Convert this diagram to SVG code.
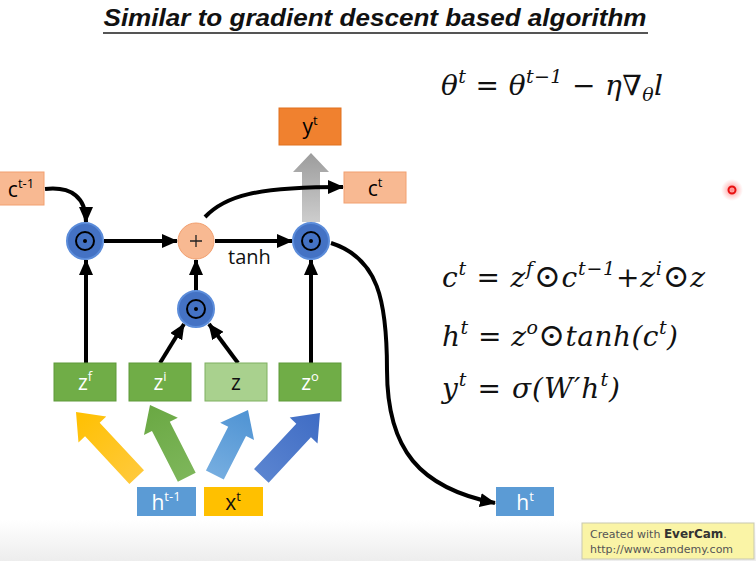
<svg xmlns="http://www.w3.org/2000/svg" width="756" height="561" viewBox="0 0 756 561">
<defs>
<style>
.lbl{font-family:"Open Sans","Liberation Sans",sans-serif;font-size:21px;text-anchor:middle}
.sup{font-size:13px}
.eq{font-family:"DejaVu Serif","Liberation Serif",serif;font-style:italic;font-size:28px;fill:#111}
.eqs{font-size:19px}
.od{font-style:normal;font-size:32px}
.conn{fill:none;stroke:#000;stroke-width:4}
.blue{fill:#4472C4;stroke:#5B8CDA;stroke-width:2}
.odot{fill:none;stroke:#000;stroke-width:2}
.zg{fill:#70AD47;stroke:#5E9A3A;stroke-width:1}
.peach{fill:#F8B992;stroke:#F2A070;stroke-width:1}
</style>
<marker id="ah" viewBox="0 0 16 14" refX="15" refY="7" markerWidth="16" markerHeight="14" markerUnits="userSpaceOnUse" orient="auto">
<path d="M0,0 L16,7 L0,14 z" fill="#000"/>
</marker>
<linearGradient id="gy" x1="0" y1="0" x2="0" y2="1"><stop offset="0" stop-color="#FFC000"/><stop offset="1" stop-color="#FFC93A"/></linearGradient>
<linearGradient id="gg" x1="0" y1="0" x2="0" y2="1"><stop offset="0" stop-color="#6AA843"/><stop offset="1" stop-color="#7DB65A"/></linearGradient>
<linearGradient id="glb" x1="0" y1="0" x2="0" y2="1"><stop offset="0" stop-color="#4F93D3"/><stop offset="1" stop-color="#75ADE0"/></linearGradient>
<linearGradient id="gb" x1="0" y1="0" x2="0" y2="1"><stop offset="0" stop-color="#3F6CC4"/><stop offset="1" stop-color="#5A84D0"/></linearGradient>
<linearGradient id="ggray" x1="0" y1="0" x2="0" y2="1"><stop offset="0" stop-color="#9C9C9C"/><stop offset="1" stop-color="#CDCDCD"/></linearGradient>
<linearGradient id="gbot" x1="0" y1="0" x2="0" y2="1"><stop offset="0" stop-color="#FFFFFF"/><stop offset="1" stop-color="#EDEDED"/></linearGradient>
<radialGradient id="gred"><stop offset="0" stop-color="#FF5050" stop-opacity="0.7"/><stop offset="1" stop-color="#FF8080" stop-opacity="0"/></radialGradient>
</defs>
<rect x="0" y="0" width="756" height="561" fill="#FFFFFF"/>
<rect x="0" y="520" width="756" height="41" fill="url(#gbot)"/>

<g id="title">
<text x="375" y="26" font-family="'Liberation Sans',sans-serif" font-weight="bold" font-style="italic" font-size="24" text-anchor="middle" textLength="543" lengthAdjust="spacingAndGlyphs" fill="#111">Similar to gradient descent based algorithm</text>
<line x1="103" y1="33" x2="648" y2="33" stroke="#555" stroke-width="2"/>
</g>

<g id="formulas">
<text class="eq" x="441" y="95" textLength="222">θ<tspan class="eqs" dy="-12">t</tspan><tspan dy="12"> = θ</tspan><tspan class="eqs" dy="-12">t−1</tspan><tspan dy="12"> − η∇</tspan><tspan class="eqs" dy="6">θ</tspan><tspan dy="-6">l</tspan></text>
<text class="eq" x="442" y="287" textLength="263">c<tspan class="eqs" dy="-12">t</tspan><tspan dy="12"> = z</tspan><tspan class="eqs" dy="-12">f</tspan><tspan dy="12" class="od">⊙</tspan><tspan>c</tspan><tspan class="eqs" dy="-12">t−1</tspan><tspan dy="12" font-style="normal">+</tspan><tspan>z</tspan><tspan class="eqs" dy="-12">i</tspan><tspan dy="12" class="od">⊙</tspan><tspan>z</tspan></text>
<text class="eq" x="442" y="346" textLength="236">h<tspan class="eqs" dy="-12">t</tspan><tspan dy="12"> = z</tspan><tspan class="eqs" dy="-12">o</tspan><tspan dy="12" class="od">⊙</tspan><tspan>tanh(c</tspan><tspan class="eqs" dy="-12">t</tspan><tspan dy="12">)</tspan></text>
<text class="eq" x="442" y="398" textLength="178">y<tspan class="eqs" dy="-12">t</tspan><tspan dy="12"> = σ(W′h</tspan><tspan class="eqs" dy="-12">t</tspan><tspan dy="12">)</tspan></text>
</g>

<g id="block-arrows">
<path d="M0,0 L19,24 L10,24 L10,89 L-10,89 L-10,24 L-19,24 Z" transform="translate(76,412) rotate(-43)" fill="url(#gy)"/>
<path d="M0,0 L19,24 L10,24 L10,81 L-10,81 L-10,24 L-19,24 Z" transform="translate(150,405) rotate(-27)" fill="url(#gg)"/>
<path d="M0,0 L19,24 L10,24 L10,73 L-10,73 L-10,24 L-19,24 Z" transform="translate(248,410) rotate(27)" fill="url(#glb)"/>
<path d="M0,0 L19,24 L10,24 L10,86 L-10,86 L-10,24 L-19,24 Z" transform="translate(320,413) rotate(43)" fill="url(#gb)"/>
<path d="M311,153 L329,172 L320,172 L320,222 L302,222 L302,172 L293,172 Z" fill="url(#ggray)"/>
</g>

<g id="connectors">
<path class="conn" d="M45,189 C72,186 86,198 86,222" marker-end="url(#ah)"/>
<path class="conn" d="M104,241 L177,241" marker-end="url(#ah)"/>
<path class="conn" d="M215,241 L292,241" marker-end="url(#ah)"/>
<path class="conn" d="M86,363 L86,260" marker-end="url(#ah)"/>
<path class="conn" d="M196,291 L196,260" marker-end="url(#ah)"/>
<path class="conn" d="M160,363 L184,324" marker-end="url(#ah)"/>
<path class="conn" d="M238,363 L209,324" marker-end="url(#ah)"/>
<path class="conn" d="M311,363 L311,260" marker-end="url(#ah)"/>
<path class="conn" d="M205,217 C225,196 255,187 343,187" marker-end="url(#ah)"/>
<path class="conn" d="M331,243 C378,258 387,300 387,370 C387,450 420,488 495,503" marker-end="url(#ah)"/>
<text x="228" y="264" font-family="'Open Sans','Liberation Sans',sans-serif" font-size="20" fill="#111">tanh</text>
</g>

<g id="node-ct1"><rect class="peach" x="-1" y="172" width="45" height="33"/><text class="lbl" x="21" y="197">c<tspan class="sup" dy="-9">t-1</tspan></text></g>
<g id="node-yt"><rect x="279" y="108" width="62" height="37" fill="#F0812F" stroke="#E0701F"/><text class="lbl" x="310" y="134">y<tspan class="sup" dy="-9">t</tspan></text></g>
<g id="node-ct"><rect class="peach" x="344" y="172" width="62" height="31"/><text class="lbl" x="375" y="196">c<tspan class="sup" dy="-9">t</tspan></text></g>

<g id="mul-f"><circle class="blue" cx="85" cy="241" r="18"/><circle class="odot" cx="85" cy="241" r="9"/><circle cx="85" cy="241" r="2" fill="#000"/></g>
<g id="plus"><circle class="peach" cx="196" cy="241" r="18"/><path d="M190,241 H202 M196,235 V247" stroke="#222" stroke-width="1.3"/></g>
<g id="mul-o"><circle class="blue" cx="311" cy="241" r="18"/><circle class="odot" cx="311" cy="241" r="9"/><circle cx="311" cy="241" r="2" fill="#000"/></g>
<g id="mul-i"><circle class="blue" cx="196" cy="309" r="18"/><circle class="odot" cx="196" cy="309" r="9"/><circle cx="196" cy="309" r="2" fill="#000"/></g>

<g id="node-zf"><rect class="zg" x="54" y="363" width="62" height="38"/><text class="lbl" x="85" y="390" fill="#fff">z<tspan class="sup" dy="-9">f</tspan></text></g>
<g id="node-zi"><rect class="zg" x="129" y="363" width="62" height="38"/><text class="lbl" x="160" y="390" fill="#fff">z<tspan class="sup" dy="-9">i</tspan></text></g>
<g id="node-z"><rect x="205" y="363" width="62" height="38" fill="#A9D18E" stroke="#7FB060"/><text class="lbl" x="236" y="390" fill="#111">z</text></g>
<g id="node-zo"><rect class="zg" x="279" y="363" width="62" height="38"/><text class="lbl" x="310" y="390" fill="#fff">z<tspan class="sup" dy="-9">o</tspan></text></g>

<g id="node-ht1"><rect x="137" y="487" width="59" height="29" fill="#5B9BD5"/><text class="lbl" x="166" y="510" fill="#fff">h<tspan class="sup" dy="-9">t-1</tspan></text></g>
<g id="node-xt"><rect x="204" y="487" width="59" height="29" fill="#FFC000"/><text class="lbl" x="233" y="510" fill="#111">x<tspan class="sup" dy="-9">t</tspan></text></g>
<g id="node-ht"><rect x="496" y="487" width="58" height="29" fill="#5B9BD5"/><text class="lbl" x="525" y="510" fill="#fff">h<tspan class="sup" dy="-9">t</tspan></text></g>

<g id="watermark">
<rect x="582" y="523" width="172" height="36" fill="#FAF4A6" stroke="#C8C8B0"/>
<text x="590" y="538" font-family="'DejaVu Sans',sans-serif" font-size="11" fill="#555">Created with <tspan font-weight="bold" fill="#333" font-size="12">EverCam</tspan>.</text>
<text x="590" y="553" font-family="'DejaVu Sans',sans-serif" font-size="11" fill="#555">http://www.camdemy.com</text>
</g>

<g id="pointer">
<circle cx="732" cy="190" r="11" fill="url(#gred)"/>
<circle cx="732" cy="190" r="3.5" fill="none" stroke="#E81010" stroke-width="2"/>
</g>
</svg>
